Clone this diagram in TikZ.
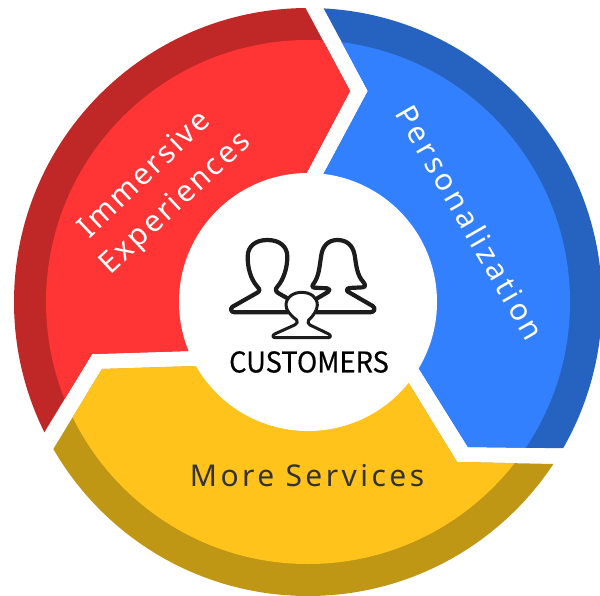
\documentclass[tikz,border=0pt]{standalone}
\usepackage{fontspec}
\setmainfont{Noto Sans}
\newfontfamily\spacedfont[LetterSpace=8]{Noto Sans}
\newfontfamily\widefont[LetterSpace=11.5]{Noto Sans}
\newfontfamily\capsfont[FakeStretch=0.96,FakeBold=0.5]{Noto Sans CJK JP}
\definecolor{redlight}{HTML}{FF3434}
\definecolor{reddark}{HTML}{C02727}
\definecolor{bluelight}{HTML}{3380FF}
\definecolor{bluedark}{HTML}{2662BF}
\definecolor{yellowlight}{HTML}{FFC31B}
\definecolor{yellowdark}{HTML}{BF9714}
\definecolor{inkdark}{HTML}{1C1C1C}
\tikzset{
  x=1pt,y=-1pt,
  ringlabel/.style={text=white,font=\fontsize{30}{36}\selectfont\spacedfont,inner sep=0pt,anchor=center},
  person/.style={draw=inkdark,line width=4.2pt,line join=round,line cap=round},
  smallperson/.style={draw=inkdark,fill=white,line width=3pt,line join=round},
}
\newcommand{\segment}[3]{%
  \begin{scope}
    \clip #1;
    \fill[#2] (308,302) circle[radius=294];
    \fill[#3] (308,302) circle[radius=262];
  \end{scope}}
\begin{document}
\begin{tikzpicture}
\useasboundingbox (0,0) rectangle (600,595);
\fill[white] (0,0) rectangle (600,595);
\segment{(284,-32) -- (350,91) -- (306,174) -- (188,351) -- (92,354) -- (-3,510) -- (-200,510) -- (-200,-32) -- cycle}{reddark}{redlight}
\segment{(302,-32) -- (368,91) -- (323,175) -- (418,367) -- (468,447) -- (700,450) -- (700,-32) -- cycle}{bluedark}{bluelight}
\segment{(102,369) -- (-5,545) -- (-5,700) -- (700,700) -- (700,467) -- (457,462) -- (408,382) -- (197,366) -- cycle}{yellowdark}{yellowlight}
\fill[white] (308,302) circle[radius=129];
\node[ringlabel,rotate=43.5] (immersive) at (143,173) {Immersive};
\node[ringlabel,rotate=43] (experiences) at (176,204) {Experiences};
\node[ringlabel,rotate=-60,font=\fontsize{30}{36}\selectfont\widefont] (personalization) at (470.5,222.5) {Personalization};
\node[ringlabel,text=inkdark!90,font=\fontsize{30}{36}\selectfont\widefont] (services) at (307,476) {More Services};
\node[inner sep=0pt,text=black,font=\fontsize{28.5}{34}\selectfont\capsfont] (customers) at (309,362) {CUSTOMERS};
\begin{scope}[shift={(200,220)},x=0.3333pt,y=-0.3333pt]
  \path[person] (262,277) -- (104,277) .. controls (92,277) and (90,265) .. (98,260) -- (172,218) .. controls (180,213) and (180,208) .. (172,200)
    .. controls (150,175) and (143,140) .. (143,110) .. controls (143,80) and (165,60) .. (202,60) .. controls (240,60) and (262,80) .. (262,110)
    .. controls (262,145) and (250,180) .. (232,200) .. controls (225,208) and (226,214) .. (236,220) -- (268,238);
  \path[person] (350,277) -- (510,277) .. controls (524,277) and (528,265) .. (518,258) -- (442,214) .. controls (438,208) and (442,205) .. (448,204) -- (488,202)
    .. controls (498,200) and (496,194) .. (490,186) .. controls (470,165) and (468,130) .. (464,105) .. controls (458,75) and (440,60) .. (412,60)
    .. controls (385,60) and (368,78) .. (364,105) .. controls (358,140) and (358,170) .. (338,195) .. controls (334,200) and (338,203) .. (344,203) -- (382,205)
    .. controls (390,206) and (390,212) .. (384,216) -- (350,236);
  \path[smallperson] (290,300) .. controls (270,285) and (258,270) .. (258,255) .. controls (258,232) and (280,217) .. (305,217)
    .. controls (332,217) and (352,232) .. (352,255) .. controls (352,270) and (340,288) .. (326,300) .. controls (322,306) and (324,312) .. (330,315)
    -- (386,342) .. controls (394,347) and (392,353) .. (384,353) -- (226,353) .. controls (218,353) and (216,347) .. (224,342)
    -- (284,315) .. controls (292,311) and (294,305) .. (290,300) -- cycle;
\end{scope}
\end{tikzpicture}
\end{document}
